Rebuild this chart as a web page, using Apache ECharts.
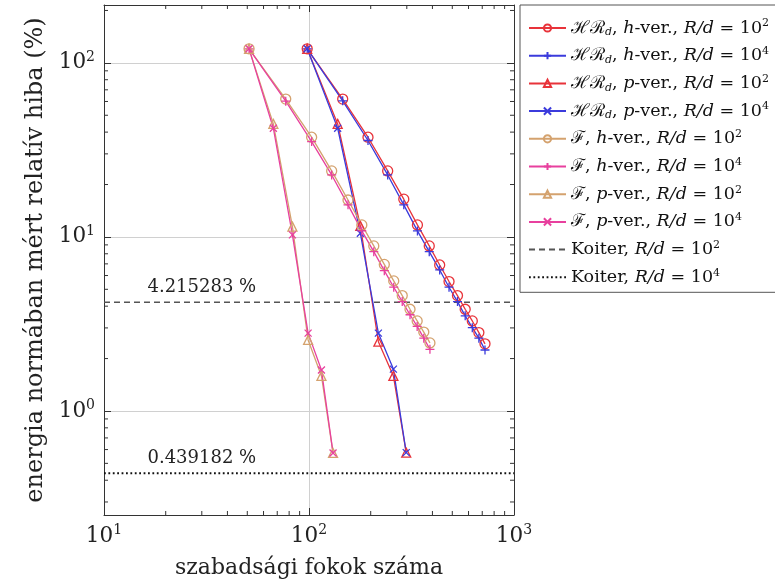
<!DOCTYPE html>
<html>
<head>
<meta charset="utf-8">
<script src="https://cdn.jsdelivr.net/npm/echarts@6/dist/echarts.min.js"></script>
<style>html,body{margin:0;padding:0;background:#fff}#c{width:775px;height:586px}</style>
</head>
<body>
<div id="c"></div>
<script>
// ---- data ----
const xHRh = [98,146,194,242,290,338,386,434,482,530,578,626,674,722];
const yHRh2 = [120.4,61.9,37.4,23.95,16.47,11.72,8.88,6.90,5.54,4.60,3.84,3.29,2.82,2.43];
const yHRh4 = [120.4,60.5,35.8,22.7,15.28,10.83,8.23,6.46,5.14,4.25,3.52,3.01,2.62,2.24];
const xHRp = [98,138,178,218,258,298];
const yHRp2 = [120.4,44.6,11.57,2.50,1.59,0.576];
const yHRp4 = [120.4,42.1,10.5,2.80,1.74,0.576];
const xFh = [51,77,103,129,155,181,207,233,259,285,311,337,363,389];
const yFh2 = [120.4,61.9,37.4,23.95,16.3,11.72,8.88,6.95,5.59,4.60,3.84,3.29,2.84,2.46];
const yFh4 = [120.4,60.2,35.3,22.7,15.28,10.83,8.23,6.40,5.14,4.25,3.57,3.06,2.62,2.26];
const xFp = [51,67,83,99,115,131];
const yFp2 = [120.4,44.6,11.46,2.56,1.59,0.574];
const yFp4 = [120.4,42.1,10.27,2.80,1.72,0.574];
const koiter2 = 4.215283;
const koiter4 = 0.439182;
const koiterLabelX = 30;
const xRange = [10, 1000];
const yRange = [0.2525, 215];
const xMinorTicks = [20,30,40,50,60,70,80,90,200,300,400,500,600,700,800,900];
const yMinorTicks = [0.3,0.4,0.5,0.6,0.7,0.8,0.9,2,3,4,5,6,7,8,9,20,30,40,50,60,70,80,90,200];

const names = [
  'HRd h 2','HRd h 4','HRd p 2','HRd p 4','F h 2','F h 4','F p 2','F p 4','Koiter 2','Koiter 4'
];
const richNames = {
  'HRd h 2': '{c|ℋℛ}{sub|d}{n|, }{i|h}{n|-ver., }{i|R/d}{n| = 10}{sup|2}',
  'HRd h 4': '{c|ℋℛ}{sub|d}{n|, }{i|h}{n|-ver., }{i|R/d}{n| = 10}{sup|4}',
  'HRd p 2': '{c|ℋℛ}{sub|d}{n|, }{i|p}{n|-ver., }{i|R/d}{n| = 10}{sup|2}',
  'HRd p 4': '{c|ℋℛ}{sub|d}{n|, }{i|p}{n|-ver., }{i|R/d}{n| = 10}{sup|4}',
  'F h 2': '{c|ℱ}{n|, }{i|h}{n|-ver., }{i|R/d}{n| = 10}{sup|2}',
  'F h 4': '{c|ℱ}{n|, }{i|h}{n|-ver., }{i|R/d}{n| = 10}{sup|4}',
  'F p 2': '{c|ℱ}{n|, }{i|p}{n|-ver., }{i|R/d}{n| = 10}{sup|2}',
  'F p 4': '{c|ℱ}{n|, }{i|p}{n|-ver., }{i|R/d}{n| = 10}{sup|4}',
  'Koiter 2': '{n|Koiter, }{i|R/d}{n| = 10}{sup|2}',
  'Koiter 4': '{n|Koiter, }{i|R/d}{n| = 10}{sup|4}'
};

const RED = '#e8333a', BLUE = '#3b3bdc', TAN = '#d4a26e', MAG = '#e8409e';
const SERIF = 'DejaVu Serif';
const PLUS = 'path://M5,0L5,10M0,5L10,5';
const CROSS = 'path://M0,0L10,10M0,10L10,0';

function zip(xs, ys) { return xs.map((x, i) => [x, ys[i]]); }
function mk(name, xs, ys, color, symbol, size) {
  return {
    name: name, type: 'line', data: zip(xs, ys),
    symbol: symbol, symbolSize: size, showSymbol: true,
    lineStyle: { color: color, width: 1.3 },
    itemStyle: { color: 'rgba(255,255,255,0)', borderColor: color, borderWidth: 1.3 },
    emphasis: { disabled: true }, animation: false, z: 3
  };
}
function koiter(name, v, label, lineStyle) {
  return {
    name: name, type: 'line', data: [[xRange[0], v], [xRange[1], v]],
    symbol: 'none', symbolSize: 0, lineStyle: lineStyle, animation: false, z: 2,
    itemStyle: { color: 'rgba(0,0,0,0)', borderWidth: 0 },
    markPoint: {
      symbol: 'circle', symbolSize: 0, animation: false,
      data: [{ coord: [koiterLabelX, v], label: { show: true, position: 'top', distance: 6,
        formatter: label, color: '#222', fontFamily: SERIF, fontSize: 18 } }]
    }
  };
}
function powLabel(v) {
  const l = Math.log10(v), e = Math.round(l);
  if (Math.abs(l - e) > 1e-6) return '';
  return '{b|10}{s|' + e + '}';
}
const tickRich = {
  b: { fontFamily: SERIF, fontSize: 21.5, lineHeight: 26, color: '#222' },
  s: { fontFamily: SERIF, fontSize: 14, lineHeight: 13, verticalAlign: 'top', color: '#222' }
};
const frame = { show: true, lineStyle: { color: '#333', width: 1 } };
const majorTick = { show: true, inside: true, length: 7, lineStyle: { color: '#333', width: 1 } };

// minor ticks: short segments (4 px) drawn through the log scales, broken by nulls
const kx = Math.pow(10, 4 / 205), ky = Math.pow(10, 4 / 174);
const minorSegs = [];
xMinorTicks.forEach(v => {
  minorSegs.push([v, yRange[0]], [v, yRange[0] * ky], null, [v, yRange[1] / ky], [v, yRange[1]], null);
});
yMinorTicks.forEach(v => {
  minorSegs.push([xRange[0], v], [xRange[0] * kx, v], null, [xRange[1] / kx, v], [xRange[1], v], null);
});

const series = [
  mk(names[0], xHRh, yHRh2, RED, 'circle', 10),
  mk(names[1], xHRh, yHRh4, BLUE, PLUS, 9),
  mk(names[2], xHRp, yHRp2, RED, 'triangle', 9),
  mk(names[3], xHRp, yHRp4, BLUE, CROSS, 7),
  mk(names[4], xFh, yFh2, TAN, 'circle', 10),
  mk(names[5], xFh, yFh4, MAG, PLUS, 9),
  mk(names[6], xFp, yFp2, TAN, 'triangle', 9),
  mk(names[7], xFp, yFp4, MAG, CROSS, 7),
  koiter(names[8], koiter2, '4.215283 %', { color: '#555', width: 1.6, type: [6, 4] }),
  koiter(names[9], koiter4, '0.439182 %', { color: '#111', width: 2, type: [1.8, 2.6] }),
  {
    type: 'line', name: 'minorTicks', data: minorSegs, connectNulls: false,
    symbol: 'none', silent: true, animation: false, z: 4, clip: false,
    lineStyle: { color: '#333', width: 1 }
  }
];

const option = {
  backgroundColor: '#fff',
  animation: false,
  grid: { left: 104, top: 5, width: 410, height: 510, containLabel: false, outerBoundsMode: 'none' },
  xAxis: [
    { type: 'log', logBase: 10, min: xRange[0], max: xRange[1], position: 'bottom',
      axisLine: frame, axisTick: majorTick,
      splitLine: { show: true, lineStyle: { color: '#d0d0d0', width: 1 } },
      axisLabel: { formatter: powLabel, rich: tickRich, margin: 8, showMinLabel: true, showMaxLabel: true },
      name: 'szabadsági fokok száma', nameLocation: 'middle', nameGap: 42,
      nameTextStyle: { fontFamily: SERIF, fontSize: 22, color: '#222' } },
    { type: 'log', logBase: 10, min: xRange[0], max: xRange[1], position: 'top',
      axisLine: frame, axisTick: majorTick, splitLine: { show: false }, axisLabel: { show: false } }
  ],
  yAxis: [
    { type: 'log', logBase: 10, min: yRange[0], max: yRange[1], position: 'left',
      axisLine: frame, axisTick: majorTick,
      splitLine: { show: true, lineStyle: { color: '#d0d0d0', width: 1 } },
      axisLabel: { formatter: powLabel, rich: tickRich, margin: 9 },
      name: 'energia normában mért relatív hiba (%)', nameLocation: 'middle', nameGap: 51,
      nameTextStyle: { fontFamily: SERIF, fontSize: 24, color: '#222' } },
    { type: 'log', logBase: 10, min: yRange[0], max: yRange[1], position: 'right',
      axisLine: frame, axisTick: majorTick, splitLine: { show: false }, axisLabel: { show: false } }
  ],
  legend: {
    data: names, orient: 'vertical', left: 520, top: 5,
    padding: [13, 30, 5, 8], itemGap: 7.7, itemWidth: 37, itemHeight: 9,
    backgroundColor: '#fff', borderColor: '#555', borderWidth: 1, borderRadius: 0,
    selectedMode: false,
    formatter: function (n) { return richNames[n]; },
    textStyle: {
      color: '#111', fontFamily: SERIF, fontSize: 17.5, lineHeight: 20,
      rich: {
        n: { fontFamily: SERIF, fontSize: 17.5, lineHeight: 20 },
        i: { fontFamily: SERIF, fontStyle: 'italic', fontSize: 17.5, lineHeight: 20 },
        c: { fontFamily: SERIF, fontSize: 17.5, lineHeight: 20 },
        sub: { fontFamily: SERIF, fontStyle: 'italic', fontSize: 11, lineHeight: 11, verticalAlign: 'bottom' },
        sup: { fontFamily: SERIF, fontSize: 11, lineHeight: 11, verticalAlign: 'top' }
      }
    }
  },
  series: series
};
const chart = echarts.init(document.getElementById('c'), null, { renderer: 'canvas' });
chart.setOption(option);
</script>
</body>
</html>
